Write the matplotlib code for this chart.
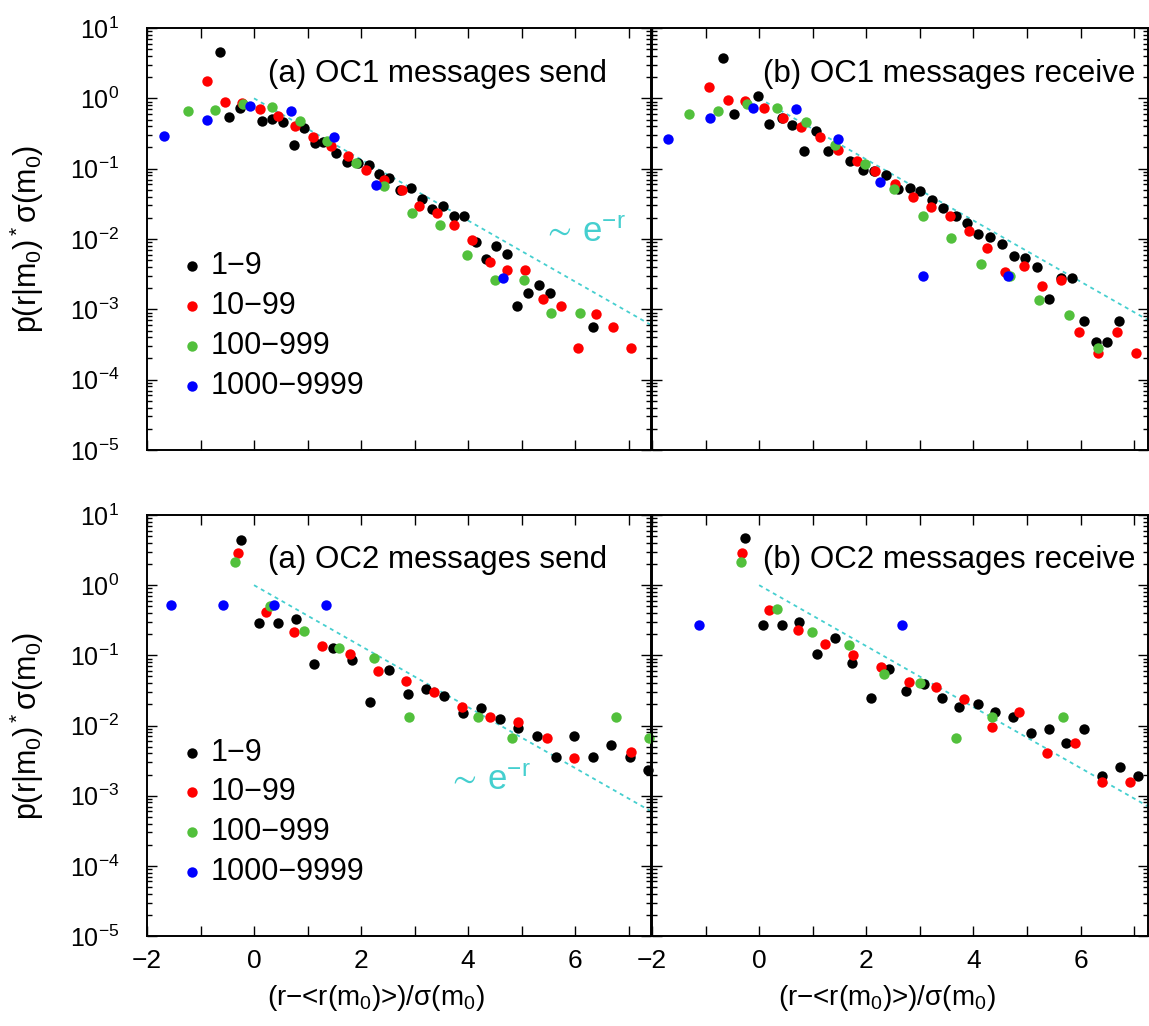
import numpy as np
import matplotlib
matplotlib.use('Agg')
import matplotlib.pyplot as plt
from matplotlib.ticker import LogLocator, MultipleLocator, FuncFormatter, NullFormatter

plt.rcParams['font.family'] = ['Liberation Sans', 'DejaVu Sans']
plt.rcParams['mathtext.fontset'] = 'custom'
plt.rcParams['mathtext.rm'] = 'Liberation Sans'
plt.rcParams['mathtext.it'] = 'Liberation Sans'
plt.rcParams['axes.unicode_minus'] = True

# ---- data ----
groups = ['1\u22129', '10\u221299', '100\u2212999', '1000\u22129999']
colors = ['#000000', '#ff0000', '#52c03c', '#0000ff']

# (a) OC1 send
oc1_send_x_1 = [-0.64, -0.46, -0.27, 0.15, 0.34, 0.54, 0.74, 0.94, 1.14, 1.29, 1.54, 1.73, 1.95, 2.14, 2.33, 2.53,
                2.73, 2.93, 3.14, 3.33, 3.53, 3.73, 3.92, 4.14, 4.33, 4.53, 4.73, 4.92, 5.13, 5.33, 5.53, 6.33]
oc1_send_y_1 = [4.55, 0.54, 0.73, 0.47, 0.51, 0.455, 0.214, 0.377, 0.231, 0.236, 0.166, 0.126, 0.122, 0.113, 0.0845,
                0.0733, 0.049, 0.0528, 0.0372, 0.0268, 0.0299, 0.0213, 0.0213, 0.0090, 0.00515, 0.00798, 0.00614,
                0.00113, 0.00169, 0.00222, 0.00169, 0.000556]
oc1_send_x_2 = [-0.88, -0.54, -0.23, 0.11, 0.44, 0.76, 1.11, 1.43, 1.76, 2.09, 2.43, 2.76, 3.09, 3.42, 3.74, 4.08,
                4.41, 4.73, 5.06, 5.41, 5.73, 6.06, 6.39, 6.71, 7.05]
oc1_send_y_2 = [1.74, 0.875, 0.857, 0.703, 0.553, 0.399, 0.278, 0.207, 0.152, 0.0964, 0.068, 0.050, 0.0299, 0.0233,
                0.0159, 0.00972, 0.00478, 0.00364, 0.00364, 0.00141, 0.00113, 0.000285, 0.000851, 0.000568, 0.000285]
oc1_send_x_3 = [-1.24, -0.72, -0.21, 0.33, 0.86, 1.37, 1.91, 2.43, 2.95, 3.47, 3.99, 4.51, 5.04, 5.56, 6.09]
oc1_send_y_3 = [0.667, 0.689, 0.828, 0.743, 0.47, 0.244, 0.122, 0.0558, 0.0233, 0.0156, 0.00594, 0.00262, 0.00262,
                0.0009, 0.0009]
oc1_send_x_4 = [-1.68, -0.88, -0.08, 0.70, 1.49, 2.28, 4.66]
oc1_send_y_4 = [0.294, 0.496, 0.767, 0.652, 0.281, 0.0577, 0.00277]

# (b) OC1 receive
oc1_recv_x_1 = [-0.67, -0.46, -0.03, 0.19, 0.42, 0.62, 0.84, 1.06, 1.28, 1.69, 1.93, 2.14, 2.36, 2.59, 2.81, 3.01,
                3.23, 3.44, 3.68, 3.89, 4.09, 4.31, 4.53, 4.75, 4.97, 5.18, 5.41, 5.63, 5.84, 6.06, 6.28, 6.49, 6.71]
oc1_recv_y_1 = [3.70, 0.604, 1.066, 0.435, 0.524, 0.421, 0.18, 0.338, 0.176, 0.1265, 0.0964, 0.0912, 0.080, 0.0512,
                0.0528, 0.0484, 0.0360, 0.0274, 0.0213, 0.0171, 0.0118, 0.0106, 0.00853, 0.00582, 0.00545, 0.00406,
                0.00139, 0.00277, 0.00277, 0.000692, 0.000348, 0.000348, 0.000692]
oc1_recv_x_2 = [-0.94, -0.59, -0.26, 0.09, 0.44, 0.79, 1.14, 1.48, 1.83, 2.17, 2.53, 2.87, 3.21, 3.56, 3.91, 4.25,
                4.59, 4.94, 5.29, 5.64, 5.98, 6.33, 6.68, 7.03]
oc1_recv_y_2 = [1.446, 0.935, 0.925, 0.719, 0.530, 0.390, 0.278, 0.186, 0.129, 0.0912, 0.0603, 0.0402, 0.0284,
                0.0213, 0.0128, 0.00757, 0.00344, 0.00415, 0.00218, 0.00262, 0.000482, 0.000242, 0.000482, 0.000242]
oc1_recv_x_3 = [-1.30, -0.76, -0.22, 0.33, 0.88, 1.42, 1.97, 2.51, 3.06, 3.59, 4.14, 4.68, 5.23, 5.78, 6.33]
oc1_recv_y_3 = [0.597, 0.652, 0.838, 0.726, 0.459, 0.219, 0.117, 0.0516, 0.0209, 0.0105, 0.00438, 0.00302, 0.00136,
                0.000832, 0.000279]
oc1_recv_x_4 = [-1.71, -0.91, -0.11, 0.68, 1.47, 2.26, 3.06, 4.64]
oc1_recv_y_4 = [0.263, 0.524, 0.726, 0.703, 0.263, 0.0643, 0.00299, 0.00299]

# (a) OC2 send
oc2_send_x_1 = [-0.25, 0.09, 0.44, 0.78, 1.13, 1.47, 1.83, 2.17, 2.52, 2.87, 3.21, 3.56, 3.91, 4.25, 4.59, 4.94,
                5.29, 5.64, 5.98, 6.33, 6.68, 7.02, 7.36]
oc2_send_y_1 = [4.40, 0.286, 0.292, 0.326, 0.0752, 0.126, 0.0858, 0.0214, 0.0618, 0.0281, 0.0331, 0.0266, 0.0149,
                0.0176, 0.0124, 0.00931, 0.00708, 0.00352, 0.00708, 0.00352, 0.00527, 0.00352, 0.00232]
oc2_send_x_2 = [-0.30, 0.22, 0.74, 1.27, 1.79, 2.32, 2.84, 3.37, 3.89, 4.42, 4.94, 5.47, 5.99, 7.04]
oc2_send_y_2 = [2.84, 0.419, 0.217, 0.137, 0.103, 0.0604, 0.0436, 0.0303, 0.0185, 0.0134, 0.0111, 0.00671, 0.0034,
                0.00424]
oc2_send_x_3 = [-0.35, 0.29, 0.94, 1.59, 2.25, 2.89, 4.19, 4.83, 6.76, 7.39]
oc2_send_y_3 = [2.16, 0.505, 0.225, 0.126, 0.0927, 0.0131, 0.0131, 0.00664, 0.0131, 0.00664]
oc2_send_x_4 = [-1.55, -0.58, 0.38, 1.34]
oc2_send_y_4 = [0.52, 0.52, 0.52, 0.52]

# (b) OC2 receive
oc2_recv_x_1 = [-0.26, 0.08, 0.42, 0.74, 1.08, 1.42, 1.74, 2.08, 2.42, 2.75, 3.08, 3.42, 3.74, 4.08, 4.41, 4.74,
                5.08, 5.41, 5.73, 6.06, 6.41, 6.74, 7.08]
oc2_recv_y_1 = [4.65, 0.268, 0.268, 0.295, 0.106, 0.175, 0.0785, 0.0244, 0.0631, 0.0313, 0.0386, 0.0244, 0.0185,
                0.0202, 0.0156, 0.0134, 0.00773, 0.00881, 0.00569, 0.00881, 0.00193, 0.00254, 0.00191]
oc2_recv_x_2 = [-0.32, 0.19, 0.72, 1.23, 1.75, 2.28, 2.79, 3.30, 3.82, 4.34, 4.85, 5.38, 5.89, 6.41, 6.93]
oc2_recv_y_2 = [2.84, 0.443, 0.230, 0.145, 0.100, 0.0689, 0.0421, 0.035, 0.0241, 0.00962, 0.0154, 0.00401, 0.00569,
                0.00158, 0.00158]
oc2_recv_x_3 = [-0.34, 0.33, 0.99, 1.67, 2.33, 3.01, 3.68, 4.34, 5.68]
oc2_recv_y_3 = [2.11, 0.457, 0.217, 0.140, 0.0536, 0.0408, 0.00671, 0.0134, 0.0134]
oc2_recv_x_4 = [-1.13, 2.66]
oc2_recv_y_4 = [0.268, 0.268]

titles = ['(a) OC1 messages send', '(b) OC1 messages receive',
          '(a) OC2 messages send', '(b) OC2 messages receive']

CYAN = '#45cfcf'
W, H = 1149, 1026


def box(l, r, t, b):
    return [l / W, 1 - b / H, (r - l) / W, (b - t) / H]


def style_axes(ax, xmax, xlabels, ylabels):
    ax.set_xlim(-2, xmax)
    ax.set_yscale('log')
    ax.set_ylim(1e-5, 1e1)
    ax.patch.set_visible(False)
    for s in ax.spines.values():
        s.set_linewidth(1.4)
    ax.xaxis.set_major_locator(MultipleLocator(1))
    ax.yaxis.set_major_locator(LogLocator(base=10, numticks=20))
    ax.yaxis.set_minor_locator(LogLocator(base=10, subs=np.arange(2, 10), numticks=20))
    ax.yaxis.set_minor_formatter(NullFormatter())
    ax.tick_params(which='both', direction='in', top=True, right=True, width=1.0)
    ax.tick_params(which='major', length=7)
    ax.tick_params(which='minor', length=3.5)
    ax.tick_params(axis='x', labelsize=19, pad=9)
    ax.tick_params(axis='y', labelsize=18, pad=20)
    if xlabels:
        ax.xaxis.set_major_formatter(FuncFormatter(
            lambda v, p: ('%d' % round(v)).replace('-', '\u2212') if round(v) % 2 == 0 else ''))
    else:
        ax.xaxis.set_major_formatter(NullFormatter())
    if ylabels:
        ax.yaxis.set_major_formatter(FuncFormatter(
            lambda v, p: r'$\mathregular{10^{%d}}$' % round(np.log10(v))))
    else:
        ax.yaxis.set_major_formatter(NullFormatter())


fig = plt.figure(figsize=(W / 100, H / 100), dpi=100)

panels = [
    (box(147, 651, 28, 450), 7.42, [(oc1_send_x_1, oc1_send_y_1), (oc1_send_x_2, oc1_send_y_2),
                                    (oc1_send_x_3, oc1_send_y_3), (oc1_send_x_4, oc1_send_y_4)]),
    (box(652, 1148, 28, 450), 7.26, [(oc1_recv_x_1, oc1_recv_y_1), (oc1_recv_x_2, oc1_recv_y_2),
                                     (oc1_recv_x_3, oc1_recv_y_3), (oc1_recv_x_4, oc1_recv_y_4)]),
    (box(147, 651, 515, 936), 7.42, [(oc2_send_x_1, oc2_send_y_1), (oc2_send_x_2, oc2_send_y_2),
                                     (oc2_send_x_3, oc2_send_y_3), (oc2_send_x_4, oc2_send_y_4)]),
    (box(652, 1148, 515, 936), 7.26, [(oc2_recv_x_1, oc2_recv_y_1), (oc2_recv_x_2, oc2_recv_y_2),
                                      (oc2_recv_x_3, oc2_recv_y_3), (oc2_recv_x_4, oc2_recv_y_4)]),
]

for i, (rect, xmax, series) in enumerate(panels):
    ax = fig.add_axes(rect)
    left = i % 2 == 0
    bottom = i >= 2
    style_axes(ax, xmax, bottom, left)

    # reference line ~ e^-r
    r = np.linspace(0, xmax, 200)
    ax.plot(r, np.exp(-r), color=CYAN, lw=1.3, ls=(0, (2.2, 2.2)), zorder=1)

    handles = []
    for (xs, ys), c, g in zip(series, colors, groups):
        h = ax.scatter(xs, ys, s=56, color=c, linewidths=0, clip_on=False, zorder=3, label=g)
        handles.append(h)

    ax.text(0.2406 if left else 0.224, 0.873, titles[i], transform=ax.transAxes,
            fontsize=22.5, ha='left', va='baseline')

    if left:
        ax.legend(handles=handles, loc='upper left', bbox_to_anchor=(0.066, 0.471), frameon=False,
                  fontsize=22, borderpad=0, borderaxespad=0, handlelength=0.75, handletextpad=0.25,
                  labelspacing=0.32, scatterpoints=1, markerscale=1.0)
        ax.set_ylabel(r'$\mathregular{p(r|m_0)^*\sigma(m_0)}$', fontsize=22)
        ax.yaxis.set_label_coords(-0.2, 0.5)
        tx, ty = (0.783, 0.493) if not bottom else (0.596, 0.347)
        ax.text(tx, ty, r'$\mathregular{\sim\,e^{\u2212r}}$'.replace(r'\u2212', '\u2212'),
                transform=ax.transAxes, color=CYAN, fontsize=25, ha='left', va='baseline')
    if bottom:
        ax.set_xlabel('(r\u2212<r(m$_0$)>)/\u03c3(m$_0$)', fontsize=20)
        ax.xaxis.set_label_coords(0.454 if left else 0.474, -0.112)
        ax.xaxis.label.set_va('top')

fig.savefig('out.png', dpi=100)
